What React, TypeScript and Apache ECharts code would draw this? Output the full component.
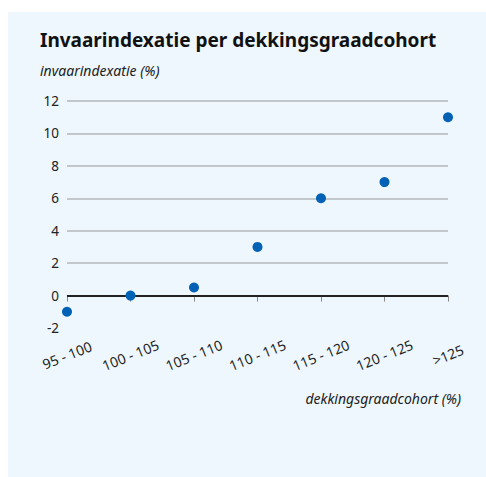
import React, { useEffect, useRef } from "react";
import * as echarts from "echarts";

const categories = ["95 - 100", "100 - 105", "105 - 110", "110 - 115", "115 - 120", "120 - 125", ">125"];
const values = [-1, 0, 0.5, 3, 6, 7, 11];
const gridValues = [2, 4, 6, 8, 10, 12];
const zeroValue = 0;

const FONT = "'Noto Sans', sans-serif";

export default function App() {
  const ref = useRef<HTMLDivElement>(null);
  useEffect(() => {
    const chart = echarts.init(ref.current!, undefined, { renderer: "svg" });
    chart.setOption({
      animation: false,
      backgroundColor: "#edf7fd",
      grid: { left: 59, right: 38, top: 89, bottom: 149 },
      graphic: [
        {
          type: "text",
          left: 32,
          top: 18,
          style: { text: "Invaarindexatie per dekkingsgraadcohort", font: `bold 19px ${FONT}`, fill: "#111" },
        },
        {
          type: "text",
          left: 32,
          top: 51,
          style: { text: "invaarindexatie (%)", font: `italic 14px ${FONT}`, fill: "#222" },
        },
        {
          type: "text",
          right: 25,
          top: 379,
          style: { text: "dekkingsgraadcohort (%)", font: `italic 14px ${FONT}`, fill: "#222" },
        },
      ],
      xAxis: {
        type: "category",
        data: categories,
        boundaryGap: false,
        axisLine: { show: true, lineStyle: { color: "#c4c8cc", width: 1 } },
        axisTick: { show: true, length: 6, lineStyle: { color: "#888", width: 1 } },
        axisLabel: {
          rotate: 22,
          align: "center",
          verticalAlign: "middle",
          margin: 27,
          fontFamily: FONT,
          fontSize: 14,
          color: "#222",
        },
      },
      yAxis: {
        type: "value",
        min: -2,
        max: 12,
        interval: 2,
        axisLine: { show: false },
        axisTick: { show: false },
        splitLine: { show: false },
        axisLabel: { margin: 8, fontFamily: FONT, fontSize: 13.5, color: "#222" },
      },
      series: [
        {
          type: "line",
          data: [],
          silent: true,
          markLine: {
            symbol: "none",
            silent: true,
            label: { show: false },
            lineStyle: { color: "#b3b7bb", width: 1.5, type: "solid" },
            data: gridValues.map((v) => ({ yAxis: v })),
          },
        },
        {
          type: "line",
          data: [],
          silent: true,
          markLine: {
            symbol: "none",
            silent: true,
            label: { show: false },
            lineStyle: { color: "#222", width: 2, type: "solid" },
            data: [{ yAxis: zeroValue }],
          },
        },
        {
          type: "scatter",
          data: values,
          symbolSize: 10,
          itemStyle: { color: "#0061b5", opacity: 1 },
          z: 5,
        },
      ],
    });
    return () => chart.dispose();
  }, []);
  return (
    <div
      ref={ref}
      style={{ position: "absolute", left: 8, top: 12, width: 478, height: 465 }}
    />
  );
}
